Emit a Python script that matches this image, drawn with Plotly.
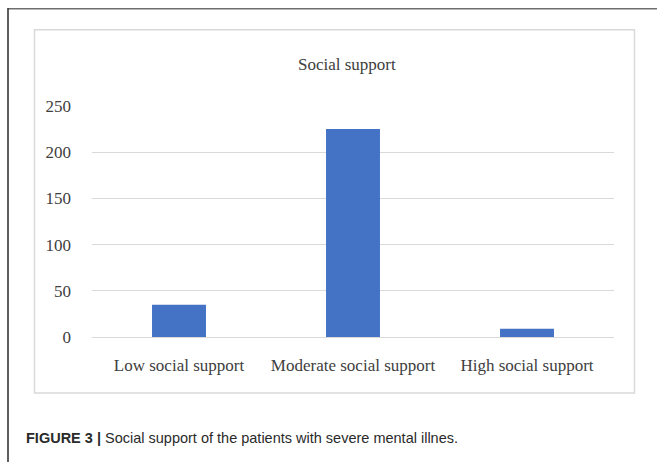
import plotly.graph_objects as go

categories = ["Low social support", "Moderate social support", "High social support"]
values = [35, 225, 9]
y_ticks = [0, 50, 100, 150, 200, 250]
chart_title = "Social support"
caption_bold = "FIGURE 3 |"
caption_text = " Social support of the patients with severe mental illnes."

W, H = 657, 462
ML, MR, MT, MB = 92, 43, 106, 125
PW, PH = W - ML - MR, H - MT - MB

def px(x):
    return (x - ML) / PW

def py(y):
    return (H - MB - y) / PH

serif = "Liberation Serif, Times New Roman, serif"
txt = "#404040"

fig = go.Figure(go.Bar(
    x=categories, y=values,
    marker=dict(color="#4472C4", line=dict(width=0)),
    width=0.31,
))

fig.update_layout(
    width=W, height=H,
    margin=dict(l=ML, r=MR, t=MT - 1, b=MB - 1, pad=0),
    paper_bgcolor="white", plot_bgcolor="white",
    showlegend=False,
    font=dict(family=serif, size=17, color=txt),
    xaxis=dict(showgrid=False, showline=False, zeroline=False,
               tickfont=dict(family=serif, size=17, color=txt),
               ticklabelstandoff=15),
    yaxis=dict(range=[-250 / 231, 250 + 250 / 231], tickvals=y_ticks, showgrid=True,
               gridcolor="#d9d9d9", gridwidth=1,
               zeroline=True, zerolinecolor="#d9d9d9", zerolinewidth=1, showline=False,
               tickfont=dict(family=serif, size=17, color=txt),
               ticklabelstandoff=20),
    shapes=[
        dict(type="rect", xref="paper", yref="paper",
             x0=px(34.5), x1=px(634.5), y0=py(391.5), y1=py(31.5),
             line=dict(color="#d9d9d9", width=1.5), layer="below"),
        dict(type="line", xref="paper", yref="paper",
             x0=px(7.5), x1=px(660), y0=py(10.5), y1=py(10.5),
             line=dict(color="#6e6e6e", width=1.5)),
        dict(type="line", xref="paper", yref="paper",
             x0=px(8), x1=px(8), y0=py(10), y1=py(470),
             line=dict(color="#2a2a2a", width=1.5)),
    ],
    annotations=[
        dict(text=chart_title, xref="paper", yref="paper",
             x=px(347), y=py(66), xanchor="center", yanchor="middle",
             showarrow=False, font=dict(family=serif, size=17, color=txt)),
        dict(text="<b>" + caption_bold + "</b>" + caption_text,
             xref="paper", yref="paper",
             x=px(24), y=py(436), xanchor="left", yanchor="middle",
             showarrow=False,
             font=dict(family="Liberation Sans, Arial", size=14.5, color="#2a2a2a")),
    ],
)

fig.write_html("out.html")
